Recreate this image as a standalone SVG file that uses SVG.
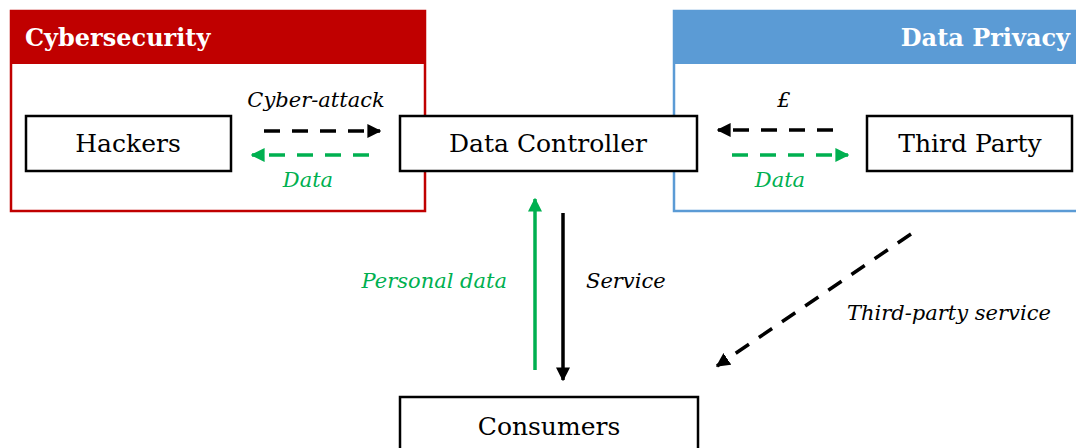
<svg xmlns="http://www.w3.org/2000/svg" width="1076" height="448" viewBox="0 0 1076 448">
<defs>
<style>
.node rect{fill:#fff;stroke:#000;stroke-width:2.5}
.node text{font-family:"DejaVu Serif",serif;font-size:25px;fill:#000;text-anchor:middle}
.hdr{font-family:"DejaVu Serif",serif;font-size:24px;font-weight:bold;fill:#fff}
.lbl{font-family:"DejaVu Serif",serif;font-size:21px;font-style:italic}
.blk{stroke:#000;stroke-width:3.5;fill:none}
.grn{stroke:#00B050;stroke-width:3.5;fill:none}
.dash{stroke-dasharray:16 12}
</style>
<marker id="ab" viewBox="0 0 10 10" refX="9" refY="5" markerWidth="4" markerHeight="4" orient="auto" markerUnits="strokeWidth"><path d="M0,0 L10,5 L0,10 z" fill="#000"/></marker>
<marker id="ag" viewBox="0 0 10 10" refX="9" refY="5" markerWidth="4" markerHeight="4" orient="auto" markerUnits="strokeWidth"><path d="M0,0 L10,5 L0,10 z" fill="#00B050"/></marker>
</defs>
<rect width="1076" height="448" fill="#fff"/>
<g id="cybersecurity">
<rect x="11" y="11" width="414" height="200" fill="#fff" stroke="#C00000" stroke-width="2.5"/>
<rect x="10" y="10" width="416" height="54" fill="#C00000"/>
<text class="hdr" x="25" y="46">Cybersecurity</text>
</g>
<g id="dataprivacy">
<rect x="674" y="11" width="410" height="200" fill="#fff" stroke="#5B9BD5" stroke-width="2.5"/>
<rect x="673" y="10" width="410" height="54" fill="#5B9BD5"/>
<text class="hdr" x="1070" y="46" text-anchor="end">Data Privacy</text>
</g>
<g id="hackers" class="node"><rect x="26" y="116" width="205" height="55"/><text x="128" y="152">Hackers</text></g>
<g id="controller" class="node"><rect x="400" y="116" width="297" height="55"/><text x="548" y="152">Data Controller</text></g>
<g id="thirdparty" class="node"><rect x="867" y="116" width="205" height="55"/><text x="970" y="152">Third Party</text></g>
<g id="consumers" class="node"><rect x="400" y="397" width="298" height="60"/><text x="549" y="435">Consumers</text></g>
<g id="connectors">
<path class="blk dash" d="M264,131 H380" marker-end="url(#ab)"/>
<path class="grn dash" d="M369,155 H252" marker-end="url(#ag)"/>
<path class="blk dash" d="M833,130 H718" marker-end="url(#ab)"/>
<path class="grn dash" d="M732,155 H848" marker-end="url(#ag)"/>
<path class="grn" d="M535,370 V199" marker-end="url(#ag)"/>
<path class="blk" d="M563,213 V380" marker-end="url(#ab)"/>
<path class="blk dash" d="M911,234 L717,366" marker-end="url(#ab)"/>
</g>
<g id="labels">
<text class="lbl" x="316" y="107" text-anchor="middle">Cyber-attack</text>
<text class="lbl" x="308" y="187" text-anchor="middle" fill="#00B050">Data</text>
<text class="lbl" x="784" y="107" text-anchor="middle">£</text>
<text class="lbl" x="780" y="187" text-anchor="middle" fill="#00B050">Data</text>
<text class="lbl" x="507" y="288" text-anchor="end" fill="#00B050">Personal data</text>
<text class="lbl" x="586" y="288">Service</text>
<text class="lbl" x="847" y="320">Third-party service</text>
</g>
</svg>
